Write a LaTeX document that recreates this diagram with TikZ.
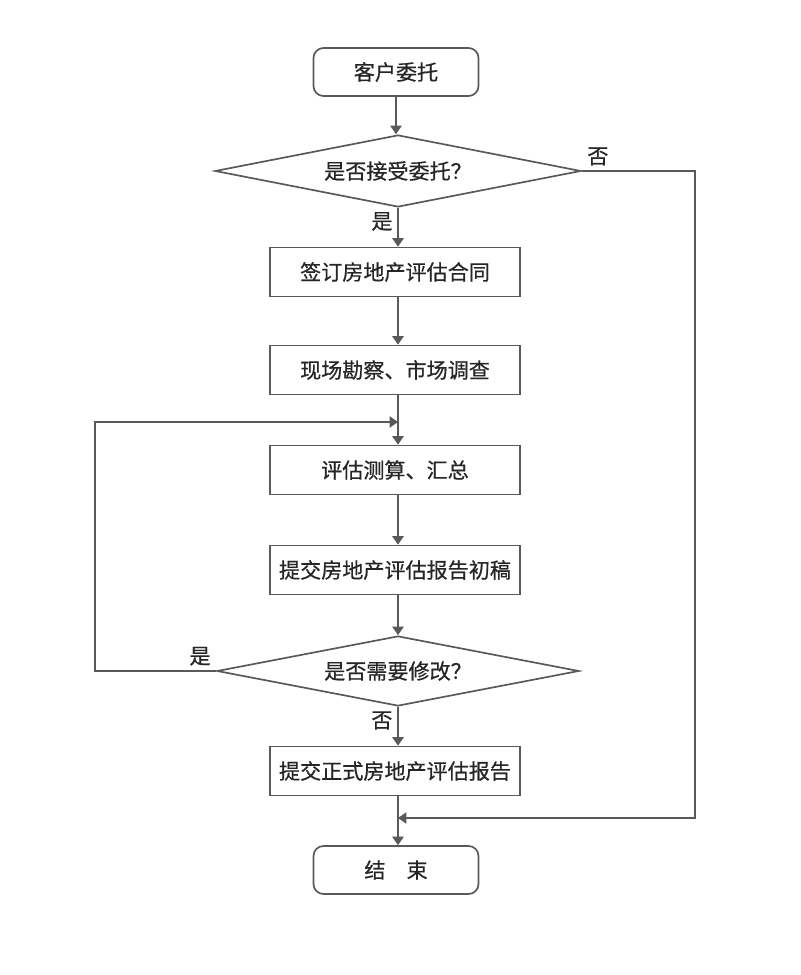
\documentclass[tikz,border=0pt]{standalone}
\usepackage{fontspec}
\newfontfamily\cjk[FakeBold=0.6]{Noto Sans CJK SC}
\usetikzlibrary{shapes.geometric,arrows.meta}
\begin{document}
\begin{tikzpicture}[line width=1.2pt,draw=black!65,font=\cjk\fontsize{15}{17}\selectfont,text=black!85,
  endbox/.style={draw,rounded corners=0.25cm,minimum width=4.125cm,minimum height=1.2cm},
  stepbox/.style={draw,minimum width=6.25cm,minimum height=1.225cm},
  choice/.style={draw,diamond,aspect=5,inner sep=0pt,minimum width=9.15cm,minimum height=1.8cm},
  arr/.style={-{Triangle[width=8pt,length=6pt]}}]
\useasboundingbox(0,0)rectangle(20,-24.375);
\node[endbox](start)at(9.9,-1.8){客户委托};
\node[choice](d1)at(9.95,-4.275){是否接受委托？};
\node[stepbox](s1)at(9.875,-6.8){签订房地产评估合同};
\node[stepbox](s2)at(9.875,-9.25){现场勘察、市场调查};
\node[stepbox](s3)at(9.875,-11.75){评估测算、汇总};
\node[stepbox](s4)at(9.875,-14.25){提交房地产评估报告初稿};
\node[choice,minimum width=9.05cm,minimum height=1.75cm](d2)at(9.95,-16.775){是否需要修改？};
\node[stepbox](s5)at(9.875,-19.275){提交正式房地产评估报告};
\node[endbox](stop)at(9.9,-21.75){结　束};
\coordinate(jn1)at(9.95,-10.55);
\coordinate(jn2)at(9.95,-20.45);
\coordinate(lft)at(2.375,0);
\coordinate(rgt)at(17.375,0);
\draw[arr](start)--(start|-d1.north);
\draw[arr](d1.south)--(d1.south|-s1.north)node[pos=0.35,left]{是};
\draw[arr](s1)--(s1.south-|d1)--(d1|-s2.north);
\draw(s2.south-|d1)--(jn1);
\draw[arr](jn1)--(d1|-s3.north);
\draw[arr](s3.south-|d1)--(d1|-s4.north);
\draw[arr](s4.south-|d1)--(d2.north);
\draw[arr](d2.south)--(d2.south|-s5.north)node[pos=0.35,left]{否};
\draw(s5.south-|d1)--(jn2);
\draw[arr](jn2)--(d1|-stop.north);
\draw[arr](d1.east)node[above right]{否}-|(rgt|-jn2)--(jn2);
\draw[arr](d2.west)node[above left]{是}-|(lft|-jn1)--(jn1);
\end{tikzpicture}
\end{document}
